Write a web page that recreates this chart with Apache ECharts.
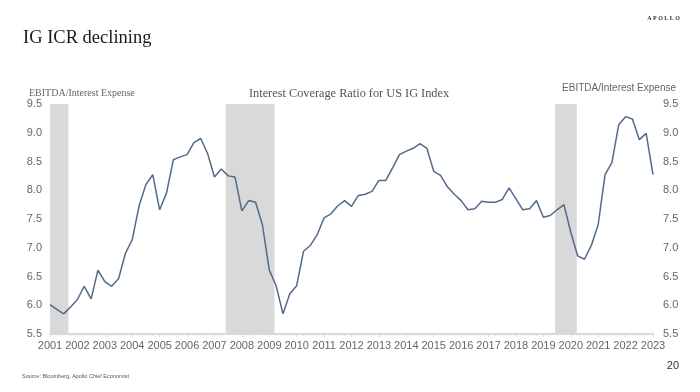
<!DOCTYPE html>
<html>
<head>
<meta charset="utf-8">
<script src="https://cdn.jsdelivr.net/npm/echarts@6/dist/echarts.min.js"></script>
<style>
html,body{margin:0;padding:0;background:#fff;}
#chart{width:700px;height:392px;}
</style>
</head>
<body>
<div id="chart"></div>
<script>
// Quarterly series starting 2001 Q1
const startYear = 2001;
const icr = [
  6.01, 5.93, 5.85, 5.97, 6.10, 6.33, 6.11, 6.61, 6.41, 6.33, 6.46, 6.90,
  7.14, 7.73, 8.10, 8.27, 7.66, 7.95, 8.53, 8.58, 8.62, 8.83, 8.90, 8.64,
  8.23, 8.37, 8.25, 8.23, 7.64, 7.82, 7.79, 7.40, 6.61, 6.34, 5.85, 6.20,
  6.34, 6.94, 7.04, 7.23, 7.52, 7.59, 7.73, 7.82, 7.72, 7.91, 7.93, 7.98,
  8.17, 8.17, 8.39, 8.62, 8.68, 8.73, 8.81, 8.73, 8.33, 8.26, 8.06, 7.93,
  7.82, 7.66, 7.68, 7.81, 7.79, 7.79, 7.84, 8.04, 7.85, 7.66, 7.68, 7.82,
  7.53, 7.56, 7.66, 7.75, 7.27, 6.86, 6.80, 7.04, 7.40, 8.27, 8.48, 9.14,
  9.28, 9.24, 8.88, 8.99, 8.27
];
// Shaded recession periods as drawn (fractional years)
const recessions = [[2001.0, 2001.67], [2007.41, 2009.19], [2019.43, 2020.22]];
const yTicks = { min: 5.5, max: 9.5, step: 0.5 };
const xRange = { min: 2001, max: 2023 };

const points = icr.map((v, i) => [startYear + i / 4, v]);

const chart = echarts.init(document.getElementById('chart'), null, { renderer: 'canvas' });
const serif = '"Liberation Serif", "Times New Roman", serif';
const sans = '"Liberation Sans", Arial, sans-serif';
const labelColor = '#666666';

const yAxisCommon = {
  type: 'value', min: yTicks.min, max: yTicks.max, interval: yTicks.step,
  splitLine: { show: false },
  axisLine: { show: false },
  axisTick: { show: false },
  axisLabel: { color: labelColor, fontFamily: sans, fontSize: 11, formatter: v => v.toFixed(1) }
};

chart.setOption({
  animation: false,
  backgroundColor: '#fff',
  grid: { left: 50, right: 47, top: 104, bottom: 58 },
  xAxis: {
    type: 'value', min: xRange.min, max: xRange.max, interval: 1,
    splitLine: { show: false },
    axisLine: { show: true, lineStyle: { color: '#d9d9d9', width: 2 } },
    axisTick: { show: true, length: 3, lineStyle: { color: '#d9d9d9' } },
    minorTick: { show: true, splitNumber: 4, length: 2, lineStyle: { color: '#e6e6e6' } },
    axisLabel: { color: labelColor, fontFamily: sans, fontSize: 11, margin: 6, formatter: v => String(v) }
  },
  yAxis: [
    Object.assign({}, yAxisCommon, { position: 'left', axisLabel: Object.assign({}, yAxisCommon.axisLabel, { margin: 8 }) }),
    Object.assign({}, yAxisCommon, { position: 'right', axisLabel: Object.assign({}, yAxisCommon.axisLabel, { margin: 10 }) })
  ],
  graphic: [
    { type: 'text', left: 23, top: 29, style: { text: 'IG ICR declining', font: '18.5px ' + serif, fill: '#1a1a1a' } },
    { type: 'text', right: 20, top: 15, style: { text: 'A P O L L O', font: 'bold 6px ' + serif, fill: '#333' } },
    { type: 'text', left: 29, top: 88, style: { text: 'EBITDA/Interest Expense', font: '10px ' + serif, fill: labelColor } },
    { type: 'text', left: 249, top: 88, style: { text: 'Interest Coverage Ratio for US IG Index', font: '12.3px ' + serif, fill: '#555' } },
    { type: 'text', right: 24, top: 83, style: { text: 'EBITDA/Interest Expense', font: '10px ' + sans, fill: labelColor } },
    { type: 'text', left: 22, top: 373, style: { text: 'Source: Bloomberg, Apollo Chief Economist', font: '5.5px ' + sans, fill: '#555' } },
    { type: 'text', right: 21, top: 360, style: { text: '20', font: '11px ' + sans, fill: '#333' } }
  ],
  series: [
    {
      type: 'line',
      data: points,
      symbol: 'none',
      lineStyle: { color: '#526a8a', width: 1.5 },
      z: 3,
      markArea: {
        silent: true,
        itemStyle: { color: '#d9d9d9' },
        data: recessions.map(r => [{ xAxis: r[0], yAxis: yTicks.max }, { xAxis: r[1], yAxis: yTicks.min }])
      }
    }
  ]
});
</script>
</body>
</html>
